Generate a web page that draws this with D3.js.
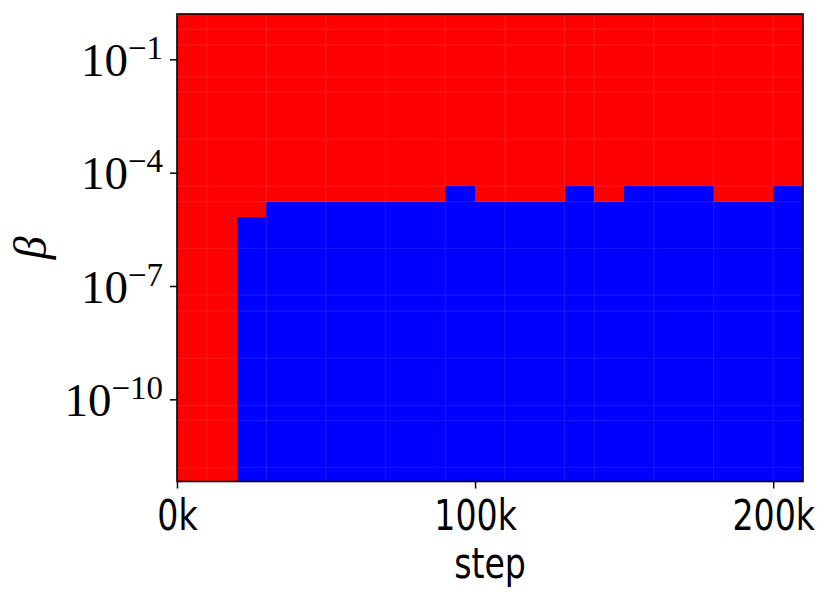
<!DOCTYPE html>
<html>
<head>
<meta charset="utf-8">
<script src="https://d3js.org/d3.v7.min.js"></script>
<style>
  body { margin: 0; background: #fff; }
</style>
</head>
<body>
<svg id="chart"></svg>
<script>
// column starts (step), each column is 10k wide
const steps = d3.range(0, 210000, 10000);
// beta value of the red/blue boundary per column (blue below it), null = all red
const boundary = [null, null, 6.6e-6,
  1.7e-5, 1.7e-5, 1.7e-5, 1.7e-5, 1.7e-5, 1.7e-5,
  4.5e-5, 1.7e-5, 1.7e-5, 1.7e-5, 4.5e-5, 1.7e-5,
  4.5e-5, 4.5e-5, 4.5e-5, 1.7e-5, 1.7e-5, 4.5e-5];
// faint cell seams
const seamSteps = [10000, 30000, 50000, 70000, 90000, 110000, 130000, 140000, 160000, 180000, 200000];
const seamBetaExp = [-0.206, -0.621, -1.461, -1.866, -3.117, -4.354, -4.769, -6.003,
  -7.239, -7.663, -8.914, -10.169, -10.555, -11.81];
const xTicks = [0, 100000, 200000];
const xTickLabels = ["0k", "100k", "200k"];
const yTickExp = [-1, -4, -7, -10];

const width = 831, height = 602;
const margin = {top: 14, right: 28, bottom: 120.5, left: 177};

const svg = d3.select("#chart")
    .attr("width", width)
    .attr("height", height);

const x = d3.scaleLinear()
    .domain([0, 210000])
    .range([margin.left, width - margin.right]);
const y = d3.scaleLog()
    .domain([Math.pow(10, -12.175), Math.pow(10, 0.2)])
    .range([height - margin.bottom, margin.top]);

const yBottom = y.range()[0], yTop = y.range()[1];

// cells
const cols = svg.append("g").attr("shape-rendering", "crispEdges");
steps.forEach((s, i) => {
    const b = boundary[i];
    const yb = b === null ? yBottom : y(b);
    cols.append("rect")
        .attr("x", x(s))
        .attr("width", x(s + 10000) - x(s))
        .attr("y", yTop)
        .attr("height", yb - yTop)
        .attr("fill", "#ff0000");
    if (b !== null) {
        cols.append("rect")
            .attr("x", x(s))
            .attr("width", x(s + 10000) - x(s))
            .attr("y", yb)
            .attr("height", yBottom - yb)
            .attr("fill", "#0000ff");
    }
});

// seams
const seams = svg.append("g")
    .attr("stroke", "#fff")
    .attr("stroke-opacity", 0.1)
    .attr("stroke-width", 1);
seamSteps.forEach(s => {
    seams.append("line")
        .attr("x1", x(s)).attr("x2", x(s))
        .attr("y1", yTop).attr("y2", yBottom);
});
seamBetaExp.forEach(e => {
    seams.append("line")
        .attr("x1", x.range()[0]).attr("x2", x.range()[1])
        .attr("y1", y(Math.pow(10, e))).attr("y2", y(Math.pow(10, e)));
});

// frame
svg.append("rect")
    .attr("x", x.range()[0])
    .attr("y", yTop)
    .attr("width", x.range()[1] - x.range()[0])
    .attr("height", yBottom - yTop)
    .attr("fill", "none")
    .attr("stroke", "#000")
    .attr("stroke-width", 1.6);

// x axis
const xAxis = svg.append("g")
    .attr("transform", `translate(0,${yBottom})`)
    .call(d3.axisBottom(x).tickValues(xTicks).tickSize(7)
        .tickFormat((d, i) => xTickLabels[i]));
xAxis.select(".domain").remove();
xAxis.selectAll(".tick line").attr("stroke", "#000").attr("stroke-width", 1.5);
xAxis.selectAll(".tick text")
    .attr("y", 48.5)
    .attr("dy", null)
    .attr("transform", "scale(0.79,1)")
    .attr("fill", "#000")
    .style("font-family", "DejaVu Sans")
    .style("font-size", "42px");

// y axis
const yAxis = svg.append("g")
    .attr("transform", `translate(${x.range()[0]},0)`)
    .call(d3.axisLeft(y).tickValues(yTickExp.map(e => Math.pow(10, e))).tickSize(7)
        .tickFormat(""));
yAxis.select(".domain").remove();
yAxis.selectAll(".tick line").attr("stroke", "#000").attr("stroke-width", 1.5);

yTickExp.forEach(e => {
    const t = svg.append("text")
        .attr("x", 163)
        .attr("y", y(Math.pow(10, e)) + 16.5)
        .attr("text-anchor", "end")
        .style("font-family", "Liberation Serif")
        .style("font-size", "47px");
    t.append("tspan").text("10");
    t.append("tspan")
        .attr("dy", -17)
        .style("font-size", "33px")
        .text("\u2212" + Math.abs(e));
});

// axis titles
svg.append("text")
    .attr("transform", `translate(${(x.range()[0] + x.range()[1]) / 2},578) scale(0.79,1)`)
    .attr("text-anchor", "middle")
    .style("font-family", "DejaVu Sans")
    .style("font-size", "42px")
    .text("step");

svg.append("text")
    .attr("transform", `translate(46,${(yTop + yBottom) / 2}) rotate(-90)`)
    .attr("text-anchor", "middle")
    .style("font-family", "Liberation Serif")
    .style("font-style", "italic")
    .style("font-size", "46px")
    .text("β");
</script>
</body>
</html>
